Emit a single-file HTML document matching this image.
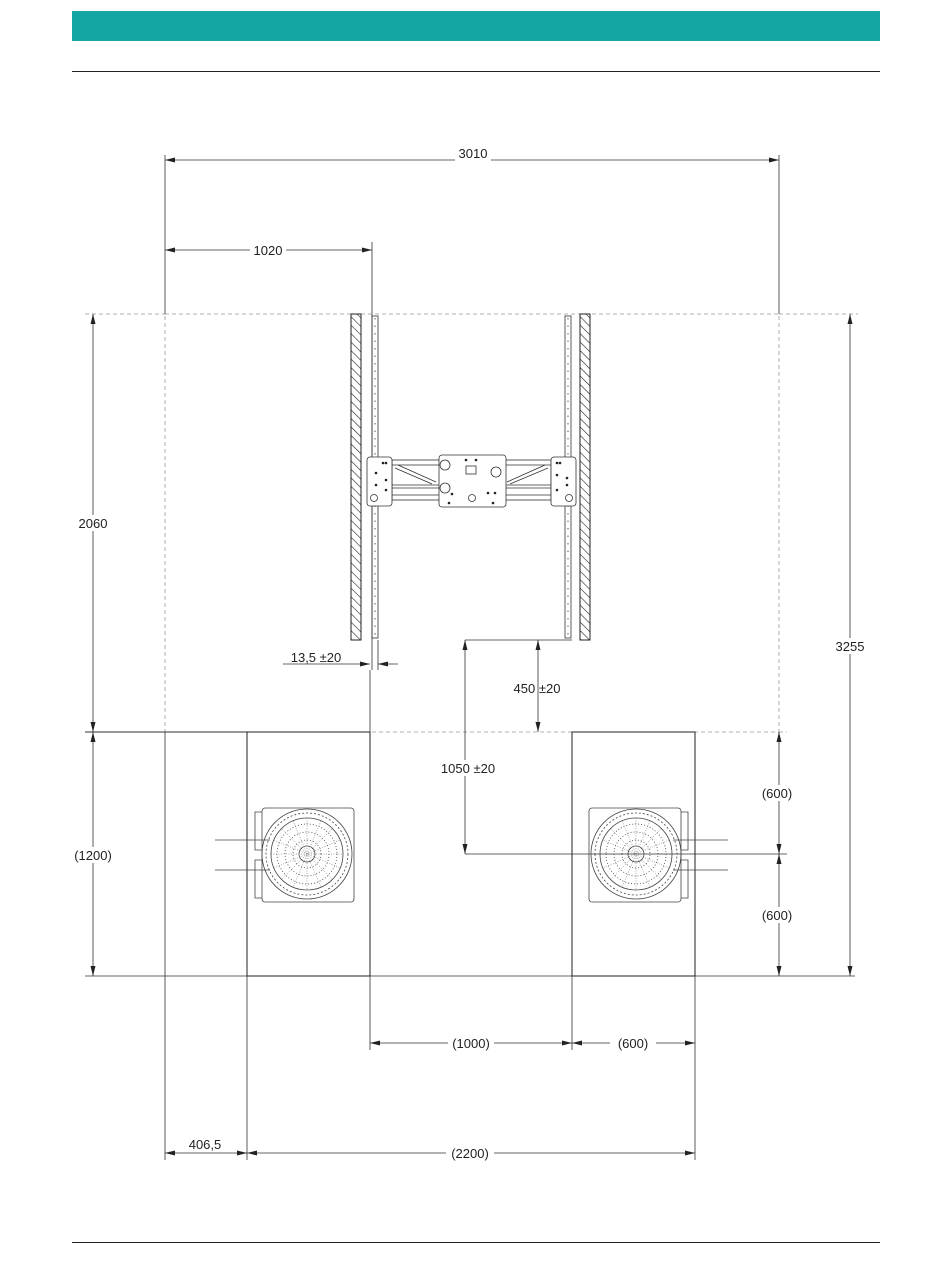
<!DOCTYPE html>
<html><head><meta charset="utf-8"><style>
html,body{margin:0;padding:0;background:#fff}
svg{display:block}
text{font-family:"Liberation Sans",sans-serif;font-size:13px;fill:#222;text-anchor:middle}
</style></head><body>
<svg width="950" height="1275" viewBox="0 0 950 1275" xmlns="http://www.w3.org/2000/svg">
<defs>
<marker id="a" viewBox="0 0 10 6" refX="10" refY="3" markerWidth="10" markerHeight="6" orient="auto-start-reverse" markerUnits="userSpaceOnUse"><path d="M0,0.5 L10,3 L0,5.5z" fill="#222"/></marker>
<pattern id="h" width="6" height="6" patternUnits="userSpaceOnUse" patternTransform="rotate(-45)"><line x1="0" y1="0" x2="0" y2="6" stroke="#222" stroke-width="1.2"/></pattern>
</defs>
<rect x="72" y="11" width="808" height="30" fill="#14a6a4"/>
<line x1="72" y1="71.5" x2="880" y2="71.5" stroke="#222"/>
<line x1="72" y1="1242.5" x2="880" y2="1242.5" stroke="#222"/>

<g stroke="#999" stroke-width="0.8" stroke-dasharray="4,3" fill="none">
<rect x="165" y="314" width="614" height="418"/>
<line x1="779" y1="732" x2="787" y2="732"/>
<line x1="85" y1="314" x2="165" y2="314"/><line x1="779" y1="314" x2="858" y2="314"/>
</g>
<g stroke="#333" stroke-width="0.8" fill="none">
<line x1="165" y1="155" x2="165" y2="314"/><line x1="779" y1="155" x2="779" y2="314"/>
<line x1="372" y1="242" x2="372" y2="670"/>
<line x1="85" y1="732" x2="370" y2="732" stroke-width="1"/>
<line x1="85" y1="976" x2="855" y2="976"/>
<line x1="465" y1="640" x2="572" y2="640"/>
<line x1="465" y1="854" x2="787" y2="854"/>
<line x1="165" y1="732" x2="165" y2="1160"/>
<line x1="247" y1="976" x2="247" y2="1160"/>
<line x1="695" y1="976" x2="695" y2="1160"/>
<line x1="370" y1="976" x2="370" y2="1050"/>
<line x1="572" y1="976" x2="572" y2="1050"/>
<line x1="370" y1="670" x2="370" y2="732"/>
<line x1="378" y1="640" x2="378" y2="670"/>
<line x1="165" y1="160" x2="779" y2="160" marker-start="url(#a)" marker-end="url(#a)"/>
<line x1="165" y1="250" x2="372" y2="250" marker-start="url(#a)" marker-end="url(#a)"/>
<line x1="93" y1="314" x2="93" y2="732" marker-start="url(#a)" marker-end="url(#a)"/>
<line x1="93" y1="732" x2="93" y2="976" marker-start="url(#a)" marker-end="url(#a)"/>
<line x1="850" y1="314" x2="850" y2="976" marker-start="url(#a)" marker-end="url(#a)"/>
<line x1="283" y1="664" x2="370" y2="664" marker-end="url(#a)"/>
<line x1="398" y1="664" x2="378" y2="664" marker-end="url(#a)"/>
<line x1="538" y1="640" x2="538" y2="732" marker-start="url(#a)" marker-end="url(#a)"/>
<line x1="465" y1="640" x2="465" y2="854" marker-start="url(#a)" marker-end="url(#a)"/>
<line x1="779" y1="732" x2="779" y2="854" marker-start="url(#a)" marker-end="url(#a)"/>
<line x1="779" y1="854" x2="779" y2="976" marker-start="url(#a)" marker-end="url(#a)"/>
<line x1="370" y1="1043" x2="572" y2="1043" marker-start="url(#a)" marker-end="url(#a)"/>
<line x1="572" y1="1043" x2="695" y2="1043" marker-start="url(#a)" marker-end="url(#a)"/>
<line x1="165" y1="1153" x2="247" y2="1153" marker-start="url(#a)" marker-end="url(#a)"/>
<line x1="247" y1="1153" x2="695" y2="1153" marker-start="url(#a)" marker-end="url(#a)"/>
</g>
<g stroke="#222" stroke-width="1" fill="none">
<rect x="247" y="732" width="123" height="244"/>
<rect x="572" y="732" width="123" height="244"/>
</g>
<rect x="351" y="314" width="10" height="326" fill="url(#h)" stroke="#222"/>
<rect x="580" y="314" width="10" height="326" fill="url(#h)" stroke="#222"/>
<g stroke="#333" stroke-width="0.8" fill="none">
<rect x="372" y="316" width="6" height="322"/>
<rect x="565" y="316" width="6" height="322"/>
<line x1="375" y1="318" x2="375" y2="636" stroke-dasharray="1.5,6"/>
<line x1="568" y1="318" x2="568" y2="636" stroke-dasharray="1.5,6"/>
<rect x="392" y="460" width="159" height="40"/>
<line x1="392" y1="465" x2="551" y2="465"/><line x1="392" y1="495" x2="551" y2="495"/>
<line x1="392" y1="485" x2="551" y2="485"/><line x1="392" y1="488" x2="551" y2="488"/>
<line x1="395" y1="468" x2="432" y2="484"/><line x1="398" y1="465" x2="436" y2="482"/>
<line x1="548" y1="468" x2="510" y2="484"/><line x1="545" y1="465" x2="507" y2="482"/>
<rect x="367" y="457" width="25" height="49" rx="3" fill="#fff"/>
<rect x="551" y="457" width="25" height="49" rx="3" fill="#fff"/>
<rect x="439" y="455" width="67" height="52" rx="3" fill="#fff"/>
<circle cx="445" cy="465" r="5"/><circle cx="445" cy="488" r="5"/><circle cx="496" cy="472" r="5"/>
<circle cx="472" cy="498" r="3.5"/><circle cx="374" cy="498" r="3.5"/><circle cx="569" cy="498" r="3.5"/>
<rect x="466" y="466" width="10" height="8"/>
</g>
<g fill="#222">
<circle cx="383" cy="463" r="1.3"/><circle cx="386" cy="463" r="1.3"/><circle cx="376" cy="473" r="1.3"/><circle cx="386" cy="480" r="1.3"/><circle cx="376" cy="485" r="1.3"/><circle cx="386" cy="490" r="1.3"/>
<circle cx="557" cy="463" r="1.3"/><circle cx="560" cy="463" r="1.3"/><circle cx="557" cy="475" r="1.3"/><circle cx="567" cy="478" r="1.3"/><circle cx="557" cy="490" r="1.3"/><circle cx="567" cy="485" r="1.3"/>
<circle cx="466" cy="460" r="1.3"/><circle cx="476" cy="460" r="1.3"/><circle cx="452" cy="494" r="1.3"/><circle cx="488" cy="493" r="1.3"/><circle cx="495" cy="493" r="1.3"/><circle cx="449" cy="503" r="1.3"/><circle cx="493" cy="503" r="1.3"/>
</g>
<g stroke="#444" stroke-width="0.8" fill="none" id="tt">
<rect x="262" y="808" width="92" height="94" rx="3"/>
<path d="M262,812 h-7 v38 h7 M262,860 h-7 v38 h7"/>
<circle cx="307" cy="854" r="45"/>
<circle cx="307" cy="854" r="41" stroke-dasharray="2,2"/>
<circle cx="307" cy="854" r="36"/>
<circle cx="307" cy="854" r="30" stroke-dasharray="1,2"/>
<circle cx="307" cy="854" r="22" stroke-dasharray="1,2"/>
<circle cx="307" cy="854" r="14" stroke-dasharray="1,2"/>
<circle cx="307" cy="854" r="8"/>
<path d="M215,840 h55 M215,870 h55"/>
</g>
<g stroke="#555" stroke-width="0.5" stroke-dasharray="1,1.5">
<line x1="271" y1="854" x2="343" y2="854"/><line x1="307" y1="818" x2="307" y2="890"/>
<line x1="282" y1="829" x2="332" y2="879"/><line x1="332" y1="829" x2="282" y2="879"/>
<line x1="274" y1="840" x2="340" y2="868"/><line x1="274" y1="868" x2="340" y2="840"/>
<line x1="293" y1="821" x2="321" y2="887"/><line x1="321" y1="821" x2="293" y2="887"/>
</g>
<g transform="translate(636,0) scale(-1,1) translate(-307,0)">
<use href="#tt"/>
<g stroke="#555" stroke-width="0.5" stroke-dasharray="1,1.5">
<line x1="271" y1="854" x2="343" y2="854"/><line x1="307" y1="818" x2="307" y2="890"/>
<line x1="282" y1="829" x2="332" y2="879"/><line x1="332" y1="829" x2="282" y2="879"/>
<line x1="274" y1="840" x2="340" y2="868"/><line x1="274" y1="868" x2="340" y2="840"/>
<line x1="293" y1="821" x2="321" y2="887"/><line x1="321" y1="821" x2="293" y2="887"/>
</g>
</g>
<g>
<rect x="455" y="146" width="36" height="16" fill="#fff"/><text x="473" y="158">3010</text>
<rect x="250" y="243" width="36" height="16" fill="#fff"/><text x="268" y="255">1020</text>
<rect x="77" y="515" width="33" height="16" fill="#fff"/><text x="93" y="528">2060</text>
<rect x="72" y="847" width="44" height="16" fill="#fff"/><text x="93" y="860">(1200)</text>
<rect x="832" y="638" width="36" height="16" fill="#fff"/><text x="850" y="651">3255</text>
<text x="316" y="662">13,5  ±20</text>
<text x="537" y="693">450  ±20</text>
<rect x="438" y="760" width="60" height="16" fill="#fff"/><text x="468" y="773">1050  ±20</text>
<rect x="754" y="785" width="46" height="16" fill="#fff"/><text x="777" y="798">(600)</text>
<rect x="754" y="907" width="46" height="16" fill="#fff"/><text x="777" y="920">(600)</text>
<rect x="448" y="1035" width="46" height="16" fill="#fff"/><text x="471" y="1048">(1000)</text>
<rect x="610" y="1035" width="46" height="16" fill="#fff"/><text x="633" y="1048">(600)</text>
<rect x="186" y="1137" width="40" height="14" fill="#fff"/><text x="205" y="1149">406,5</text>
<rect x="446" y="1145" width="48" height="16" fill="#fff"/><text x="470" y="1158">(2200)</text>
</g>
</svg>
</body></html>
